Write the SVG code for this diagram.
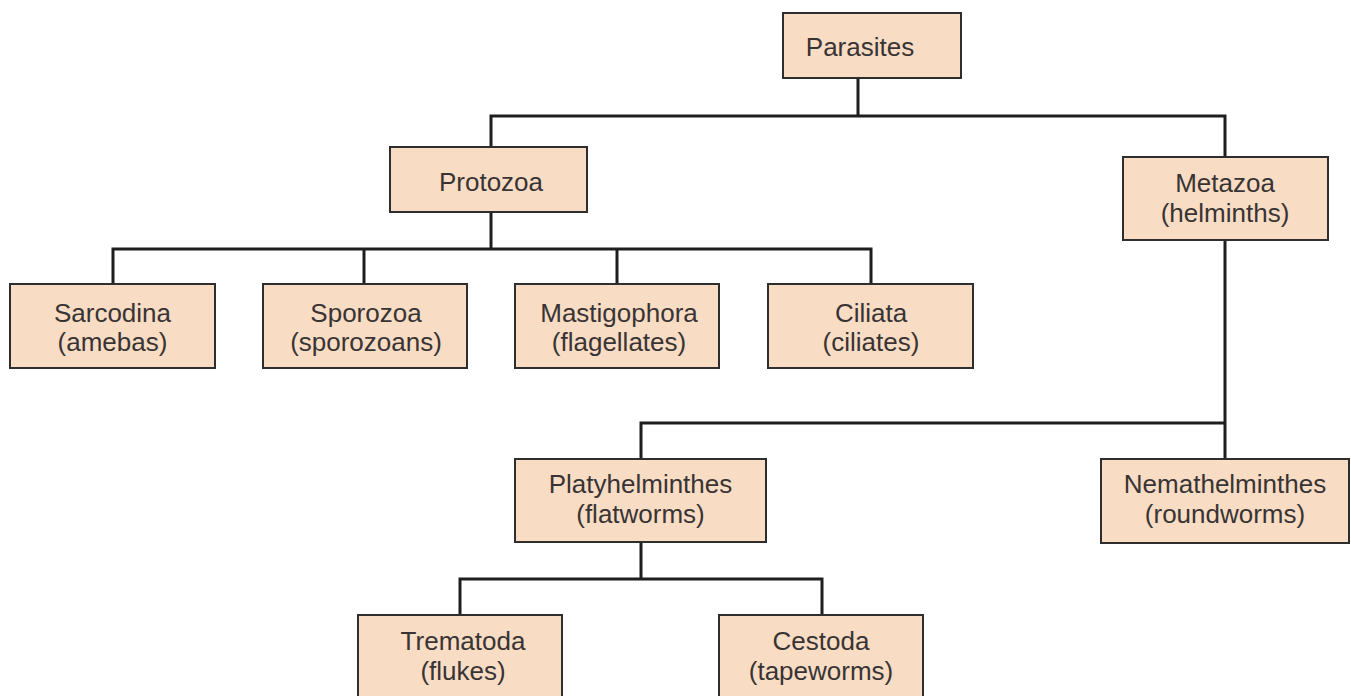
<svg xmlns="http://www.w3.org/2000/svg" width="1351" height="696" viewBox="0 0 1351 696">
<style>
.box{fill:#F9DCC4;stroke:#2e2e2e;stroke-width:2}
.lbl{font-family:"Liberation Sans",Arial,sans-serif;font-size:26px;fill:#383434;text-anchor:middle}
.con{fill:none;stroke:#1e1e1e;stroke-width:3;stroke-linejoin:miter;stroke-linecap:square}
</style>
<rect x="0" y="0" width="1351" height="696" fill="#ffffff"/>
<g id="connectors">
<path class="con" d="M858 78 V116 M491 147 V116 H1225 V157"/>
<path class="con" d="M491 212 V249 M113 284 V249 H871 V284 M364 249 V284 M617 249 V284"/>
<path class="con" d="M1225 240 V459 M641 459 V423 H1225"/>
<path class="con" d="M641 542 V579 M460 615 V579 H822 V615"/>
</g>
<g id="parasites"><rect class="box" x="783" y="13" width="178" height="65"/><text class="lbl" x="860" y="56">Parasites</text></g>
<g id="protozoa"><rect class="box" x="390" y="147" width="197" height="65"/><text class="lbl" x="491" y="191">Protozoa</text></g>
<g id="metazoa"><rect class="box" x="1123" y="157" width="205" height="83"/><text class="lbl" x="1225" y="192">Metazoa</text><text class="lbl" x="1225" y="222">(helminths)</text></g>
<g id="sarcodina"><rect class="box" x="10" y="284" width="205" height="84"/><text class="lbl" x="112.5" y="322">Sarcodina</text><text class="lbl" x="112.5" y="351">(amebas)</text></g>
<g id="sporozoa"><rect class="box" x="263" y="284" width="204" height="84"/><text class="lbl" x="366" y="322">Sporozoa</text><text class="lbl" x="366" y="351">(sporozoans)</text></g>
<g id="mastigophora"><rect class="box" x="515" y="284" width="204" height="84"/><text class="lbl" x="619" y="322">Mastigophora</text><text class="lbl" x="619" y="351">(flagellates)</text></g>
<g id="ciliata"><rect class="box" x="768" y="284" width="205" height="84"/><text class="lbl" x="871" y="322">Ciliata</text><text class="lbl" x="871" y="351">(ciliates)</text></g>
<g id="platyhelminthes"><rect class="box" x="515" y="459" width="251" height="83"/><text class="lbl" x="640.5" y="493">Platyhelminthes</text><text class="lbl" x="640.5" y="523">(flatworms)</text></g>
<g id="nemathelminthes"><rect class="box" x="1101" y="459" width="248" height="84"/><text class="lbl" x="1225" y="493">Nemathelminthes</text><text class="lbl" x="1225" y="523">(roundworms)</text></g>
<g id="trematoda"><rect class="box" x="358" y="615" width="204" height="86"/><text class="lbl" x="463" y="650">Trematoda</text><text class="lbl" x="463" y="680">(flukes)</text></g>
<g id="cestoda"><rect class="box" x="719" y="615" width="204" height="86"/><text class="lbl" x="821" y="650">Cestoda</text><text class="lbl" x="821" y="680">(tapeworms)</text></g>
</svg>
